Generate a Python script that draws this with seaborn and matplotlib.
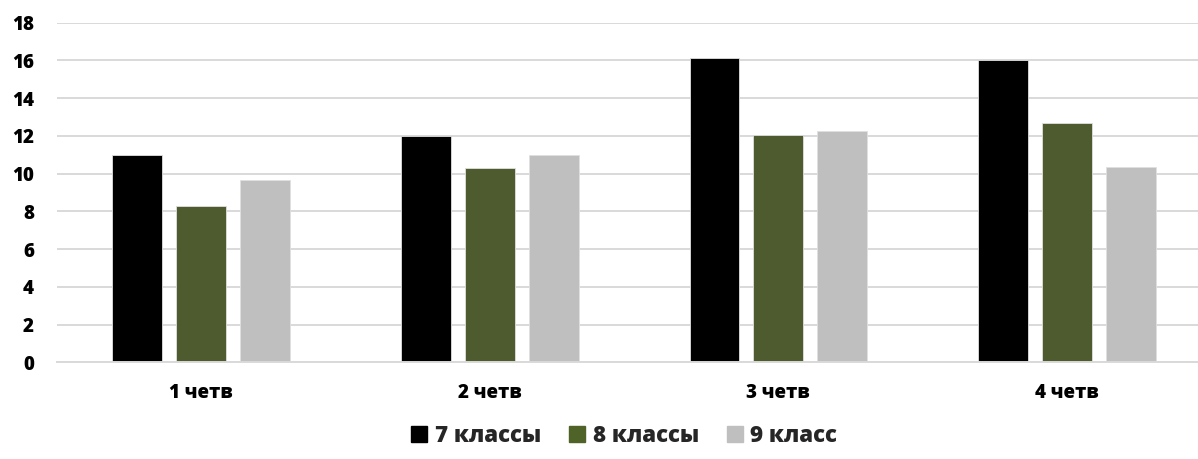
import matplotlib
matplotlib.use('Agg')
import matplotlib.pyplot as plt
import pandas as pd
import seaborn as sns

# Data
quarters = ['1 четв', '2 четв', '3 четв', '4 четв']
grade7 = [11.0, 12.0, 16.15, 16.0]
grade8 = [8.27, 10.32, 12.06, 12.67]
grade9 = [9.67, 11.0, 12.25, 10.37]
series_names = ['7 классы', '8 классы', '9 класс']
colors = ['#000000', '#4F6228', '#BFBFBF']
y_ticks = [0, 2, 4, 6, 8, 10, 12, 14, 16, 18]

df = pd.DataFrame({
    'quarter': quarters * 3,
    'value': grade7 + grade8 + grade9,
    'series': [series_names[0]] * 4 + [series_names[1]] * 4 + [series_names[2]] * 4,
})

sns.set_style('white')
plt.rcParams['font.family'] = ['Open Sans', 'DejaVu Sans']
plt.rcParams['font.weight'] = 'heavy'

fig = plt.figure(figsize=(11.98, 4.59), dpi=100)
ax = fig.add_axes([0.0476, 0.2107, 0.9524, 0.7398])

sns.barplot(data=df, x='quarter', y='value', hue='series', palette=colors,
            width=0.665, gap=0.22, edgecolor='#E0E0E0', linewidth=0.6,
            ax=ax, legend=False)

ax.set_ylim(0, 18)
ax.set_xlim(-0.5, 3.454)
ax.set_yticks(y_ticks)
ax.grid(axis='y', color='#D9D9D9', linewidth=1.4)
ax.set_axisbelow(True)
for s in ['top', 'right', 'left']:
    ax.spines[s].set_visible(False)
ax.spines['bottom'].set_color('#D9D9D9')
ax.spines['bottom'].set_linewidth(1.4)
ax.tick_params(axis='both', length=0, labelsize=13.5, colors='#000000')
ax.tick_params(axis='x', pad=15)
ax.tick_params(axis='y', pad=16.5)
for lbl in ax.get_xticklabels() + ax.get_yticklabels():
    lbl.set_fontweight('heavy')
ax.set_xlabel('')
ax.set_ylabel('')

handles = [plt.Rectangle((0, 0), 1, 1, color=c) for c in colors]
fig.legend(handles, series_names, loc='center', bbox_to_anchor=(0.521, 0.05),
           ncol=3, frameon=False, prop={'size': 16, 'weight': 'heavy'},
           handlelength=0.72, handleheight=0.72, handletextpad=0.35, columnspacing=1.25)

fig.savefig('out.png', dpi=100)
